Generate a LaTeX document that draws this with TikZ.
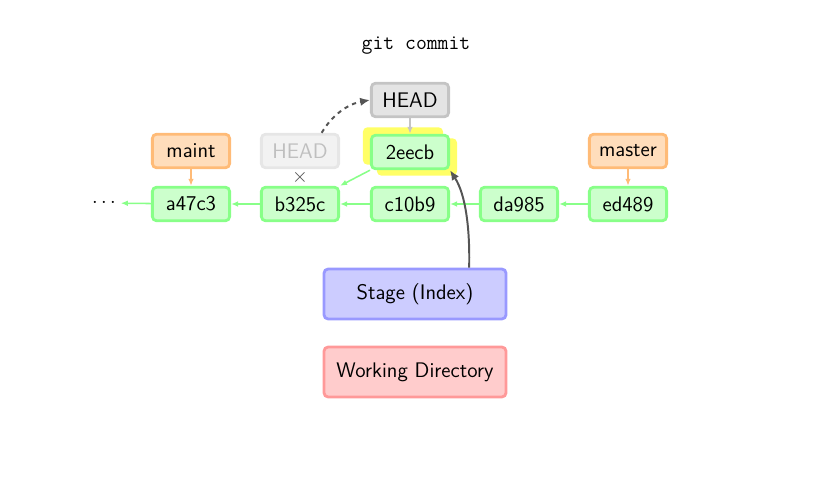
\documentclass[tikz,border=0pt]{standalone}
\usepackage{tikz}
\usetikzlibrary{arrows}
\usetikzlibrary{arrows.meta}
\definecolor{commitfill}{HTML}{CCFFCC}
\definecolor{commitline}{HTML}{88FF88}
\definecolor{branchfill}{HTML}{FFDDBB}
\definecolor{branchline}{HTML}{FFBB77}
\definecolor{headfill}{HTML}{E4E4E4}
\definecolor{headline}{HTML}{C4C4C4}
\definecolor{oldfill}{HTML}{F2F2F2}
\definecolor{oldline}{HTML}{E6E6E6}
\definecolor{stagefill}{HTML}{CCCCFF}
\definecolor{stageline}{HTML}{9999FF}
\definecolor{wdfill}{HTML}{FFCCCC}
\definecolor{wdline}{HTML}{FF9999}
\definecolor{glowfill}{HTML}{FFFF66}
\definecolor{darkarrow}{HTML}{555555}
\newcommand{\boxfont}{\sffamily\fontsize{15}{18}\selectfont}
\tikzset{
  box/.style={draw, rounded corners=3pt, line width=2pt, minimum width=1.93cm,
    minimum height=0.84cm, inner sep=0pt, font=\boxfont},
  commit/.style={box, draw=commitline, fill=commitfill},
  branch/.style={box, draw=branchline, fill=branchfill},
  headbox/.style={box, draw=headline, fill=headfill},
  oldhead/.style={box, draw=oldline, fill=oldfill, text=black!25},
  area/.style={box, minimum width=4.55cm, minimum height=1.25cm},
  glow/.style={fill=glowfill, rounded corners=3pt, minimum width=2cm, minimum height=0.93cm},
  parent/.style={->, >={Latex[length=5pt,width=4pt]}, commitline, line width=1.1pt},
}
\begin{document}
\begin{tikzpicture}[x=0.025cm,y=-0.025cm]
\useasboundingbox (0,0) rectangle (831,485);
\node (title) at (416,46) {\ttfamily\fontsize{15}{18}\selectfont git commit};
\node[glow] (glowa) at (403,146) {};
\node[glow] (glowb) at (417,157) {};
\node[headbox] (head) at (410,100) {HEAD};
\node[commit] (new) at (410,152) {2eecb};
\node[oldhead] (headold) at (300,151) {HEAD};
\node[branch] (maint) at (191,151) {maint};
\node[branch] (master) at (628,151) {master};
\node[commit] (a47c3) at (191,204) {a47c3};
\node[commit] (b325c) at (300,204) {b325c};
\node[commit] (c10b9) at (410,204) {c10b9};
\node[commit] (da985) at (519,204) {da985};
\node[commit] (ed489) at (628,204) {ed489};
\node (dots) at (104,203) {\fontsize{15}{18}\selectfont$\cdots$};
\node[text=black!70, inner sep=0pt] (cross) at (300,177.5) {\fontsize{15}{18}\selectfont$\times$};
\node[area, draw=stageline, fill=stagefill] (stage) at (415,294) {Stage (Index)};
\node[area, draw=wdline, fill=wdfill] (wd) at (415,372) {Working Directory};
\draw[parent] (a47c3) -- (dots);
\draw[parent] (b325c) -- (a47c3);
\draw[parent] (c10b9) -- (b325c);
\draw[parent] (da985) -- (c10b9);
\draw[parent] (ed489) -- (da985);
\draw[parent] (new.south west) -- (b325c.north east);
\draw[->, >={Latex[length=5pt,width=4pt]}, branchline, line width=1.1pt] (maint) -- (a47c3);
\draw[->, >={Latex[length=5pt,width=4pt]}, branchline, line width=1.1pt] (master) -- (ed489);
\draw[->, >={Latex[length=5pt,width=4pt]}, headline, line width=1.1pt] (head) -- (new);
\draw[->, >={Latex[length=7pt,width=6pt]}, darkarrow, line width=1.4pt, dashed]
  (headold.40) .. controls (332,115) and (348,104) .. (head.west);
\draw[->, >={Latex[length=7pt,width=6pt]}, darkarrow, line width=1.4pt]
  (stage.26) .. controls (470,230) and (466,195) .. (new.south east);
\end{tikzpicture}
\end{document}
